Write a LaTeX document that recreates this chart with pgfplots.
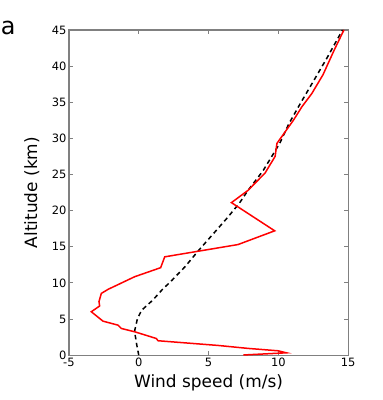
\documentclass[border=0pt]{standalone}
\usepackage{fontspec}
\setmainfont{DejaVu Sans}
\usepackage{pgfplots}
\pgfplotsset{compat=1.18}

\definecolor{axgray}{RGB}{128,128,128}

\begin{document}
\begin{tikzpicture}
\begin{axis}[
    scale only axis,
    width=279bp, height=325bp,
    xmin=-5, xmax=15, ymin=0, ymax=45,
    xtick={-5,0,5,10,15},
    xticklabels={-5,0,5,10,15},
    ytick={0,5,...,45},
    /pgf/number format/assume math mode=true,
    tick align=inside,
    major tick length=4bp,
    axis line style={axgray, line width=1.2bp},
    tick style={axgray, line width=0.8bp},
    tick label style={font=\fontsize{11.5}{12}\selectfont},
    xticklabel style={yshift=1bp},
    yticklabel style={xshift=1bp},
    label style={font=\fontsize{17}{18}\selectfont},
    xlabel={Wind speed (m/s)},
    ylabel={Altitude (km)},
    xlabel style={at={(axis description cs:0.5,-0.086)}, anchor=center},
    ylabel style={at={(axis description cs:-0.133,0.5)}, anchor=center},
    after end axis/.code={
        \node[anchor=base west, font=\fontsize{24}{24}\selectfont, inner sep=0pt]
            at (axis description cs:-0.245,0.985) {a};
        \path (axis description cs:-0.247,1.092) (axis description cs:1.122,-0.138);
    },
]
% model profile (dashed)
\addplot[black, line width=1.5bp, dash pattern=on 4.5bp off 3.5bp] coordinates {
    (0,0) (-0.15,1.5) (-0.3,3.3) (-0.1,5) (0.2,6.2) (1.0,7.6) (1.7,9.1)
    (2.3,10.2) (3.3,12.2) (4.25,14.4) (5.3,16.7) (6.3,18.9) (7.2,21)
    (7.83,22.8) (8.9,25.5) (10.1,29.3) (10.75,32) (11.6,34.9) (12.45,37.7)
    (13.45,41) (14.6,45)
};
% observed profile
\addplot[red, line width=1.5bp] coordinates {
    (7.5,0.02) (10.58,0.32) (9.98,0.6) (7.83,0.93) (5.68,1.34) (1.38,1.99)
    (1.26,2.3) (-0.29,3.23) (-1.25,3.69) (-1.49,4.15) (-2.56,4.7)
    (-3.4,6.0) (-2.8,6.8) (-2.85,7.4) (-2.68,8.54) (-2.2,9.1)
    (-0.29,10.85) (1.57,12.1) (1.86,13.6) (7.11,15.3) (9.74,17.2)
    (6.64,21.1) (7.83,22.8) (9.05,25.2) (9.77,27.5) (9.9,29.3)
    (11.08,32.5) (11.7,34.4) (12.4,36.2) (13.2,38.8) (14.0,42.2)
    (14.7,45)
};
\end{axis}
\end{tikzpicture}
\end{document}
